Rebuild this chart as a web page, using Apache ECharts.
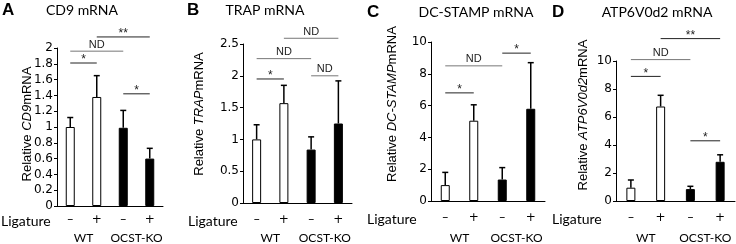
<!DOCTYPE html>
<html><head><meta charset="utf-8">
<script src="https://cdn.jsdelivr.net/npm/echarts@6/dist/echarts.min.js"></script>
<style>html,body{margin:0;padding:0;background:#fff}#c{width:736px;height:244px}</style>
</head><body><div id="c"></div>
<script>
// ---- data ----
const ligature = ['–', '+', '–', '+'];
const groups = ['WT', 'OCST-KO'];
const barColors = ['#ffffff', '#ffffff', '#000000', '#000000'];

const cd9Mean = [1.0, 1.38, 0.99, 0.6];
const cd9Top = [1.12, 1.65, 1.21, 0.73];
const cd9Sig = [[0, 1, 1.81, '*'], [0, 2, 1.96, 'ND'], [1, 3, 2.14, '**'], [2, 3, 1.42, '*']];
const cd9Ticks = { min: 0, max: 2, interval: 0.2 };

const trapMean = [1.0, 1.57, 0.84, 1.25];
const trapTop = [1.23, 1.85, 1.04, 1.92];
const trapSig = [[0, 1, 1.95, '*'], [0, 2, 2.27, 'ND'], [1, 3, 2.59, 'ND'], [2, 3, 2.0, 'ND']];
const trapTicks = { min: 0, max: 2.5, interval: 0.5 };

const dcMean = [1.0, 5.05, 1.35, 5.8];
const dcTop = [1.8, 6.05, 2.1, 8.7];
const dcSig = [[0, 1, 6.8, '*'], [0, 2, 8.5, 'ND'], [2, 3, 9.3, '*']];
const dcTicks = { min: 0, max: 10, interval: 2 };

const atpMean = [0.95, 6.75, 0.85, 2.8];
const atpTop = [1.5, 7.55, 1.05, 3.3];
const atpSig = [[0, 1, 8.9, '*'], [0, 2, 10.1, 'ND'], [1, 3, 11.6, '**'], [2, 3, 4.3, '*']];
const atpTicks = { min: 0, max: 10, interval: 2 };

const panels = [
  { letter: 'A', title: 'CD9 mRNA', gene: 'CD9', mean: cd9Mean, top: cd9Top, sig: cd9Sig, ticks: cd9Ticks,
    grid: { left: 57, top: 48, width: 106, height: 159 }, name: [27, 124], titleX: 82, titleY: 10, letterX: 2, ligX: 1, ligY: 221, xMargin: 8 },
  { letter: 'B', title: 'TRAP mRNA', gene: 'TRAP', mean: trapMean, top: trapTop, sig: trapSig, ticks: trapTicks,
    grid: { left: 243, top: 44, width: 109, height: 160 }, name: [199, 114], titleX: 265, titleY: 10, letterX: 187, ligX: 188, ligY: 221, xMargin: 11 },
  { letter: 'C', title: 'DC-STAMP mRNA', gene: 'DC-STAMP', mean: dcMean, top: dcTop, sig: dcSig, ticks: dcTicks,
    grid: { left: 431, top: 42, width: 114, height: 160 }, name: [392, 104], titleX: 476, titleY: 12, letterX: 367, ligX: 367, ligY: 219, xMargin: 11 },
  { letter: 'D', title: 'ATP6V0d2 mRNA', gene: 'ATP6V0d2', mean: atpMean, top: atpTop, sig: atpSig, ticks: atpTicks,
    grid: { left: 616, top: 61, width: 119, height: 141 }, name: [583, 115], titleX: 657, titleY: 12, letterX: 552, ligX: 552, ligY: 219, xMargin: 11 }
];

const chart = echarts.init(document.getElementById('c'));
const grid = [], xAxis = [], yAxis = [], series = [], graphic = [];
const tickFont = { fontFamily: 'DejaVu Sans, sans-serif', fontSize: 12, color: '#000' };

panels.forEach((p, k) => {
  grid.push(Object.assign({}, p.grid));
  const bottom = p.grid.top + p.grid.height;
  xAxis.push({
    type: 'category', gridIndex: k, data: ligature,
    axisLine: { lineStyle: { color: '#000', width: 1 } }, axisTick: { show: false },
    axisLabel: { interval: 0, margin: p.xMargin, fontFamily: 'DejaVu Sans, sans-serif', fontSize: 12, color: '#000' }
  });
  xAxis.push({
    type: 'category', gridIndex: k, data: groups, position: 'bottom', offset: 233 - bottom - 6,
    axisLine: { show: false }, axisTick: { show: false },
    axisLabel: { interval: 0, margin: 6, fontFamily: 'Lato, sans-serif', fontSize: 12, color: '#000' }
  });
  yAxis.push({
    type: 'value', gridIndex: k, min: p.ticks.min, max: p.ticks.max, interval: p.ticks.interval,
    splitLine: { show: false },
    axisLine: { show: true, lineStyle: { color: '#000', width: 1 } },
    axisTick: { show: true, length: 3, lineStyle: { color: '#000' } },
    axisLabel: Object.assign({ margin: 4 }, tickFont)
  });
  series.push({
    type: 'bar', xAxisIndex: 2 * k, yAxisIndex: k, barWidth: 9,
    data: p.mean.map((v, i) => ({ value: v, itemStyle: { color: barColors[i], borderColor: '#000', borderWidth: 1 } })),
    silent: true
  });
  const errData = p.mean.map((v, i) => [i, p.top[i], v]);
  series.push({
    type: 'custom', xAxisIndex: 2 * k, yAxisIndex: k, clip: false, z: 5, data: errData,
    renderItem: (params, api) => {
      const a = api.coord([api.value(0), api.value(2)]);
      const b = api.coord([api.value(0), api.value(1)]);
      const st = { stroke: '#000', lineWidth: 1.5 };
      return { type: 'group', children: [
        { type: 'line', shape: { x1: a[0], y1: a[1], x2: b[0], y2: b[1] }, style: st },
        { type: 'line', shape: { x1: b[0] - 3, y1: b[1], x2: b[0] + 3, y2: b[1] }, style: st }
      ] };
    }
  });
  const sig = p.sig;
  series.push({
    type: 'custom', xAxisIndex: 2 * k, yAxisIndex: k, clip: false, z: 6,
    data: sig.map(s => [s[0], s[1], s[2]]),
    renderItem: (params, api) => {
      const s = sig[params.dataIndex];
      const a = api.coord([s[0], s[2]]);
      const b = api.coord([s[1], s[2]]);
      const nd = s[3] === 'ND';
      return { type: 'group', children: [
        { type: 'line', shape: { x1: a[0], y1: a[1], x2: b[0], y2: b[1] }, style: { stroke: nd ? '#777' : '#222', lineWidth: 1 } },
        { type: 'text', x: (a[0] + b[0]) / 2, y: a[1] - (nd ? 1 : -3),
          style: { text: s[3], align: 'center', verticalAlign: 'bottom', fill: '#222',
            font: (nd ? '11px' : '12px') + ' Liberation Sans, Arial, sans-serif' } }
      ] };
    }
  });
  graphic.push({ type: 'text', x: p.letterX, y: p.titleY, style: { text: p.letter, fill: '#000', font: 'bold 17px Liberation Sans, Arial, sans-serif', verticalAlign: 'middle' } });
  graphic.push({ type: 'text', x: p.titleX, y: p.titleY, style: { text: p.title, fill: '#000', font: '14px Lato, sans-serif', align: 'center', verticalAlign: 'middle' } });
  graphic.push({ type: 'text', x: p.ligX, y: p.ligY, style: { text: 'Ligature', fill: '#000', font: '14px Lato, sans-serif', verticalAlign: 'middle' } });
  graphic.push({ type: 'text', x: p.name[0], y: p.name[1], rotation: Math.PI / 2,
    style: { text: '{n|Relative }{i|' + p.gene + '}{n|mRNA}', align: 'center', verticalAlign: 'middle',
      rich: { n: { fontFamily: 'Liberation Sans, Arial, sans-serif', fontSize: 13, fill: '#000', color: '#000' },
              i: { fontFamily: 'Liberation Sans, Arial, sans-serif', fontSize: 13, fontStyle: 'italic', fill: '#000', color: '#000' } } } });
});

chart.setOption({ animation: false, grid, xAxis, yAxis, series, graphic });
</script></body></html>
